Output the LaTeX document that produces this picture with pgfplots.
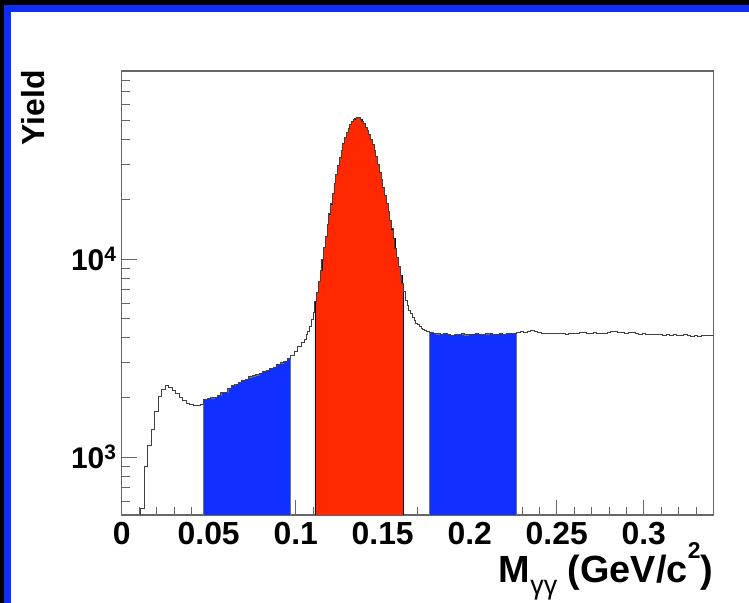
\documentclass[border=0pt]{standalone}
\usepackage{fontspec}
\setmainfont{Liberation Sans}
\usepackage{pgfplots}
\usepackage{pgfplotstable}
\pgfplotsset{compat=1.18}
\definecolor{blueF}{RGB}{16,48,255}
\definecolor{redF}{RGB}{255,40,0}
\definecolor{frameB}{RGB}{14,46,245}
\pgfplotstableread{
x y
0.001 100
0.003 100
0.005 100
0.007 100
0.009 100
0.011 550
0.013 900
0.015 1150
0.017 1380
0.019 1700
0.021 2020
0.023 2200
0.025 2290
0.027 2260
0.029 2170
0.031 2090
0.033 2010
0.035 1930
0.037 1870
0.039 1850
0.041 1830
0.043 1820
0.045 1840
0.047 1950
0.049 1970
0.051 1990
0.053 2010
0.055 2040
0.057 2120
0.059 2130
0.061 2220
0.063 2300
0.065 2330
0.067 2380
0.069 2430
0.071 2470
0.073 2540
0.075 2570
0.077 2600
0.079 2660
0.081 2720
0.083 2740
0.085 2800
0.087 2850
0.089 2940
0.091 2990
0.093 3040
0.095 3150
0.097 3260
0.099 3400
0.101 3600
0.103 3800
0.105 3950
0.106 4150
0.107 4300
0.108 4550
0.109 4950
0.110 5400
0.111 6100
0.112 6800
0.113 7700
0.114 8800
0.115 10000
0.116 11400
0.117 13000
0.118 14900
0.119 16900
0.120 19000
0.121 21500
0.122 24000
0.123 26800
0.124 29700
0.125 32500
0.126 35500
0.127 38300
0.128 41000
0.129 43500
0.130 45700
0.131 47700
0.132 49300
0.133 50500
0.134 51400
0.135 51900
0.136 51700
0.137 50900
0.138 49700
0.139 48200
0.140 46400
0.141 44500
0.142 42500
0.143 40300
0.144 38000
0.145 35500
0.146 32900
0.147 30200
0.148 27500
0.149 25200
0.150 23000
0.151 21000
0.152 19200
0.153 17400
0.154 15700
0.155 14200
0.156 12700
0.157 11300
0.158 10200
0.159 9200
0.160 8300
0.161 7500
0.162 6900
0.163 6200
0.164 5800
0.165 5500
0.166 5300
0.167 5100
0.168 4900
0.169 4750
0.170 4650
0.171 4550
0.172 4480
0.173 4420
0.174 4380
0.175 4330
0.176 4300
0.177 4280
0.179 4220
0.181 4190
0.183 4150
0.185 4200
0.187 4160
0.189 4120
0.191 4170
0.193 4150
0.195 4190
0.197 4140
0.199 4180
0.201 4160
0.203 4200
0.205 4170
0.207 4150
0.209 4190
0.211 4210
0.213 4180
0.215 4170
0.217 4200
0.219 4160
0.221 4220
0.223 4200
0.225 4230
0.227 4260
0.229 4300
0.231 4280
0.233 4330
0.235 4380
0.237 4300
0.239 4240
0.241 4220
0.243 4200
0.245 4230
0.247 4200
0.249 4190
0.251 4210
0.253 4200
0.255 4180
0.257 4220
0.259 4230
0.261 4200
0.263 4250
0.265 4280
0.267 4230
0.269 4200
0.271 4240
0.273 4210
0.275 4190
0.277 4230
0.279 4260
0.281 4300
0.283 4310
0.285 4280
0.287 4250
0.289 4220
0.291 4260
0.293 4240
0.295 4200
0.297 4180
0.299 4190
0.301 4160
0.303 4170
0.305 4150
0.307 4140
0.309 4160
0.311 4130
0.313 4150
0.315 4110
0.317 4140
0.319 4100
0.321 4120
0.323 4150
0.325 4110
0.327 4090
0.329 4100
0.331 4080
0.333 4100
0.335 4120
0.337 4110
0.339 4130
0.341 4130
}\hist
\begin{document}
\begin{tikzpicture}[x=1bp,y=1bp]
\fill[black] (0,0) rectangle (749,603);
\fill[frameB] (4,0) rectangle (749,598);
\fill[white] (11,0) rectangle (749,591);
\begin{axis}[
  at={(121.7bp,88bp)}, anchor=south west,
  width=591.6bp, height=444bp, scale only axis,
  xmin=0, xmax=0.34, ymode=log, ymin=510, ymax=89000,
  axis line style={draw=black!60, line width=1.3bp},
  tick pos=left, tick align=inside,
  major tick length=15bp, minor tick length=8bp,
  every tick/.style={draw=black!60, line width=0.8bp},
  xtick={0,0.05,0.1,0.15,0.2,0.25,0.3},
  xticklabels={0,0.05,0.1,0.15,0.2,0.25,0.3},
  minor xtick={0.01,0.02,0.03,0.04,0.06,0.07,0.08,0.09,0.11,0.12,0.13,0.14,0.16,0.17,0.18,0.19,0.21,0.22,0.23,0.24,0.26,0.27,0.28,0.29,0.31,0.32,0.33},
  ytick={1000,10000},
  yticklabels={10\textsuperscript{3},10\textsuperscript{4}},
  minor ytick={600,700,800,900,2000,3000,4000,5000,6000,7000,8000,9000,20000,30000,40000,50000,60000,70000,80000},
  ticklabel style={inner sep=2bp},
  xticklabel style={yshift=-5bp, font=\bfseries\fontsize{32}{32}\selectfont},
  yticklabel style={xshift=-3bp, font=\bfseries\fontsize{30}{30}\selectfont},
  xlabel={M\raisebox{-0.32em}{\fontsize{27}{27}\selectfont\mdseries γγ} (GeV/c\raisebox{0.62em}{\fontsize{23}{23}\selectfont 2})},
  xlabel style={at={(axis description cs:1,-0.151)}, anchor=base east, inner sep=0pt, font=\bfseries\fontsize{38}{38}\selectfont},
  ylabel={Yield},
  ylabel style={at={(axis description cs:-0.1297,1.002)}, anchor=base east, inner sep=0pt, font=\bfseries\fontsize{32}{32}\selectfont},
  clip=true,
]
\addplot[const plot, fill=blueF, draw=black!55, line width=0.6bp, restrict x to domain=0.0465:0.0975] table {\hist} \closedcycle;
\addplot[const plot, fill=redF, draw=black, line width=0.6bp, restrict x to domain=0.1105:0.1625] table {\hist} \closedcycle;
\addplot[const plot, fill=blueF, draw=black!55, line width=0.6bp, restrict x to domain=0.1765:0.2275] table {\hist} \closedcycle;
\addplot[const plot, draw=black!75, line width=0.8bp] table {\hist};
\end{axis}
\pgfresetboundingbox
\useasboundingbox (0,0) rectangle (749,603);
\end{tikzpicture}
\end{document}
